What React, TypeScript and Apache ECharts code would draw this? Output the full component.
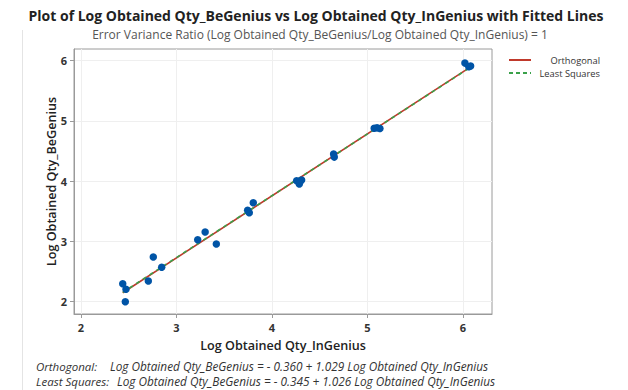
import React, { useEffect, useRef } from "react";
import * as echarts from "echarts";

const xValues = [2.437, 2.471, 2.464, 2.705, 2.757, 2.845, 3.222, 3.3, 3.417, 3.745, 3.762, 3.804, 4.258, 4.286, 4.31, 4.293, 4.645, 4.652, 5.07, 5.1, 5.13, 6.02, 6.06, 6.08];
const yValues = [2.299, 2.206, 2.0, 2.344, 2.742, 2.571, 3.029, 3.157, 2.958, 3.517, 3.477, 3.643, 4.008, 3.953, 4.02, 3.99, 4.45, 4.4, 4.88, 4.885, 4.875, 5.96, 5.9, 5.91];
const xTicks = [2, 3, 4, 5, 6];
const yTicks = [2, 3, 4, 5, 6];
const orthoCoef = [-0.36, 1.029];
const lsCoef = [-0.345, 1.026];

const FONT = "Open Sans";

export default function App() {
  const ref = useRef<HTMLDivElement>(null);
  useEffect(() => {
    if (!ref.current) return;
    const chart = echarts.init(ref.current, null, { renderer: "svg" });
    const xMin = Math.min(...xValues);
    const xMax = Math.max(...xValues);
    const lineData = (c: number[]) => [
      [xMin, c[0] + c[1] * xMin],
      [xMax, c[0] + c[1] * xMax],
    ];
    const axisCommon = {
      type: "value" as const,
      axisLine: { show: true, lineStyle: { color: "#9a9a9a", width: 1 } },
      axisTick: { show: true, length: 4, lineStyle: { color: "#9a9a9a" } },
      splitLine: { show: true, lineStyle: { color: "#efefef", width: 1 } },
      nameTextStyle: { fontFamily: FONT, fontSize: 12.6, fontWeight: 600, color: "#222" },
      nameMoveOverlap: false,
    };
    const footStyle = { fontFamily: FONT, fontStyle: "italic", fill: "#333", verticalAlign: "middle", lineHeight: 13 };
    chart.setOption({
      animation: false,
      backgroundColor: "#ffffff",
      textStyle: { fontFamily: FONT },
      title: [
        {
          text: "Plot of Log Obtained Qty_BeGenius vs Log Obtained Qty_InGenius with Fitted Lines",
          left: 311,
          top: 3,
          textAlign: "center",
          textStyle: { fontFamily: FONT, fontSize: 14, fontWeight: "bold", color: "#222" },
        },
        {
          text: "Error Variance Ratio (Log Obtained Qty_BeGenius/Log Obtained Qty_InGenius) = 1",
          left: 315,
          top: 23,
          textAlign: "center",
          textStyle: { fontFamily: FONT, fontSize: 12, fontWeight: "normal", color: "#555" },
        },
      ],
      grid: {
        left: 74,
        top: 49,
        width: 418,
        height: 265,
        show: true,
        borderColor: "#9a9a9a",
        borderWidth: 1,
        backgroundColor: "transparent",
      },
      xAxis: {
        ...axisCommon,
        min: 1.9267,
        max: 6.3037,
        name: "Log Obtained Qty_InGenius",
        nameLocation: "middle",
        nameGap: 25,
        axisTick: { ...axisCommon.axisTick, customValues: xTicks },
        axisLabel: { customValues: xTicks, margin: 8, fontFamily: FONT, fontSize: 11, fontWeight: "bold", color: "#333" },
      },
      yAxis: {
        ...axisCommon,
        min: 1.7956,
        max: 6.194,
        name: "Log Obtained Qty_BeGenius",
        nameLocation: "middle",
        nameGap: 16,
        axisTick: { ...axisCommon.axisTick, customValues: yTicks },
        axisLabel: { customValues: yTicks, margin: 7, fontFamily: FONT, fontSize: 11, fontWeight: "bold", color: "#333" },
      },
      series: [
        {
          type: "line",
          name: "Orthogonal",
          data: lineData(orthoCoef),
          showSymbol: false,
          symbol: "none",
          lineStyle: { color: "#C0392B", width: 1.6 },
          z: 2,
        },
        {
          type: "line",
          name: "Least Squares",
          data: lineData(lsCoef),
          showSymbol: false,
          symbol: "none",
          lineStyle: { color: "#3AA14A", width: 1.6, type: [4, 4] },
          z: 3,
        },
        {
          type: "scatter",
          data: xValues.map((x, i) => [x, yValues[i]]),
          symbolSize: 7.5,
          itemStyle: { color: "#0054A6", opacity: 1 },
          z: 4,
        },
      ],
      graphic: [
        { type: "line", shape: { x1: 22.5, y1: 30, x2: 22.5, y2: 390 }, style: { stroke: "#e4e4e4", lineWidth: 1 } },
        { type: "line", shape: { x1: 509, y1: 60, x2: 531, y2: 60 }, style: { stroke: "#C0392B", lineWidth: 2 } },
        { type: "line", shape: { x1: 509, y1: 73, x2: 531, y2: 73 }, style: { stroke: "#3AA14A", lineWidth: 2, lineDash: [4, 3] } },
        { type: "text", x: 600, y: 60, style: { text: "Orthogonal", fontFamily: FONT, fontSize: 9.3, fill: "#333", align: "right", verticalAlign: "middle" } },
        { type: "text", x: 600, y: 73, style: { text: "Least Squares", fontFamily: FONT, fontSize: 9.3, fill: "#333", align: "right", verticalAlign: "middle" } },
        { type: "text", x: 36, y: 366, style: { ...footStyle, text: "Orthogonal:", fontSize: 11.5 } },
        { type: "text", x: 110, y: 366, style: { ...footStyle, text: "Log Obtained Qty_BeGenius = - 0.360 + 1.029 Log Obtained Qty_InGenius", fontSize: 11.8 } },
        { type: "text", x: 36, y: 381, style: { ...footStyle, text: "Least Squares:", fontSize: 11.5 } },
        { type: "text", x: 117, y: 381, style: { ...footStyle, text: "Log Obtained Qty_BeGenius = - 0.345 + 1.026 Log Obtained Qty_InGenius", fontSize: 11.8 } },
      ],
    });
    return () => chart.dispose();
  }, []);
  return <div ref={ref} style={{ width: 628, height: 390, position: "absolute", left: 0, top: 0 }} />;
}
